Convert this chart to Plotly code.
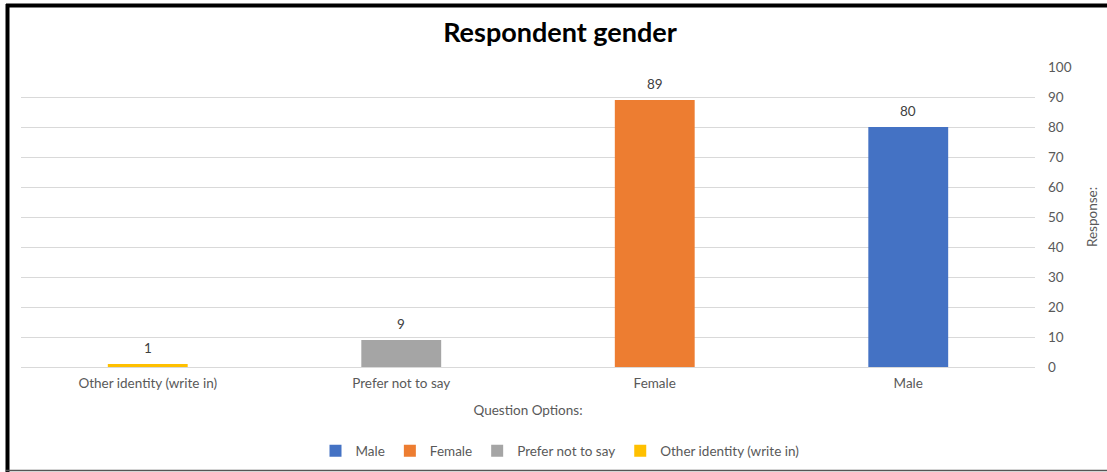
import plotly.graph_objects as go

categories = ["Male", "Female", "Prefer not to say", "Other identity (write in)"]
values = [80, 89, 9, 1]
colors = ["#4472C4", "#ED7D31", "#A5A5A5", "#FFC000"]
axis_order = ["Other identity (write in)", "Prefer not to say", "Female", "Male"]
y_ticks = list(range(0, 101, 10))

W, H = 1107, 472
L, R, T, B = 21, 72, 67, 105
pw, ph = W - L - R, H - T - B

def px_x(p):
    return (p - L) / pw

def px_y(p):
    return (H - B - p) / ph

FONT = "Lato"
GRAY = "#595959"
FS = 13.5

fig = go.Figure()
for cat, val, col in zip(categories, values, colors):
    fig.add_trace(go.Bar(
        x=[cat], y=[val], name=cat,
        marker=dict(color=col, line=dict(width=0)),
        width=0.315,
    ))
    fig.add_annotation(
        x=cat, y=val, xref="x", yref="y", text=str(val), showarrow=False,
        yshift=16, yanchor="middle",
        font=dict(family=FONT, size=FS, color="#404040"),
    )

fig.update_layout(
    width=W, height=H,
    margin=dict(l=L, r=R, t=T, b=B, autoexpand=False),
    paper_bgcolor="white", plot_bgcolor="white",
    barmode="overlay",
    title=dict(text="<b>Respondent gender</b>", xref="container", x=560 / W,
               xanchor="center", yref="container", y=1 - 33 / H, yanchor="middle",
               font=dict(family=FONT, size=27, color="#000000")),
    font=dict(family=FONT, size=FS, color=GRAY),
    xaxis=dict(
        type="category", categoryorder="array", categoryarray=axis_order,
        showgrid=False, showline=False, zeroline=False, ticks="",
        ticklabelstandoff=6,
        tickfont=dict(family=FONT, size=FS, color=GRAY),
        title=dict(text="Question Options:", standoff=16,
                   font=dict(family=FONT, size=FS, color=GRAY)),
    ),
    yaxis=dict(
        side="right", range=[0, 100], tickmode="array", tickvals=y_ticks,
        showgrid=True, gridcolor="#D9D9D9", gridwidth=1,
        zeroline=True, zerolinecolor="#D9D9D9", zerolinewidth=1,
        showline=False, ticks="", ticklabelstandoff=12,
        tickfont=dict(family=FONT, size=FS, color=GRAY),
        title=dict(text="Response:", standoff=16,
                   font=dict(family=FONT, size=FS, color=GRAY)),
    ),
    legend=dict(orientation="h", x=px_x(560), xanchor="center",
                y=px_y(451), yanchor="middle",
                font=dict(family=FONT, size=FS, color=GRAY),
                itemwidth=30, traceorder="normal"),
    showlegend=True,
    shapes=[
        dict(type="line", xref="paper", yref="paper",
             x0=px_x(6), x1=px_x(W + 2), y0=px_y(5.5), y1=px_y(5.5),
             line=dict(color="black", width=4)),
        dict(type="line", xref="paper", yref="paper",
             x0=px_x(7.5), x1=px_x(7.5), y0=px_y(4), y1=px_y(H + 2),
             line=dict(color="black", width=4)),
        dict(type="line", xref="paper", yref="paper",
             x0=px_x(6), x1=px_x(W + 2), y0=px_y(470.5), y1=px_y(470.5),
             line=dict(color="#555555", width=1.5)),
    ],
)

fig.write_html("out.html", config={"displayModeBar": False},
               post_script="document.body.style.margin='0';document.body.style.overflow='hidden';")
